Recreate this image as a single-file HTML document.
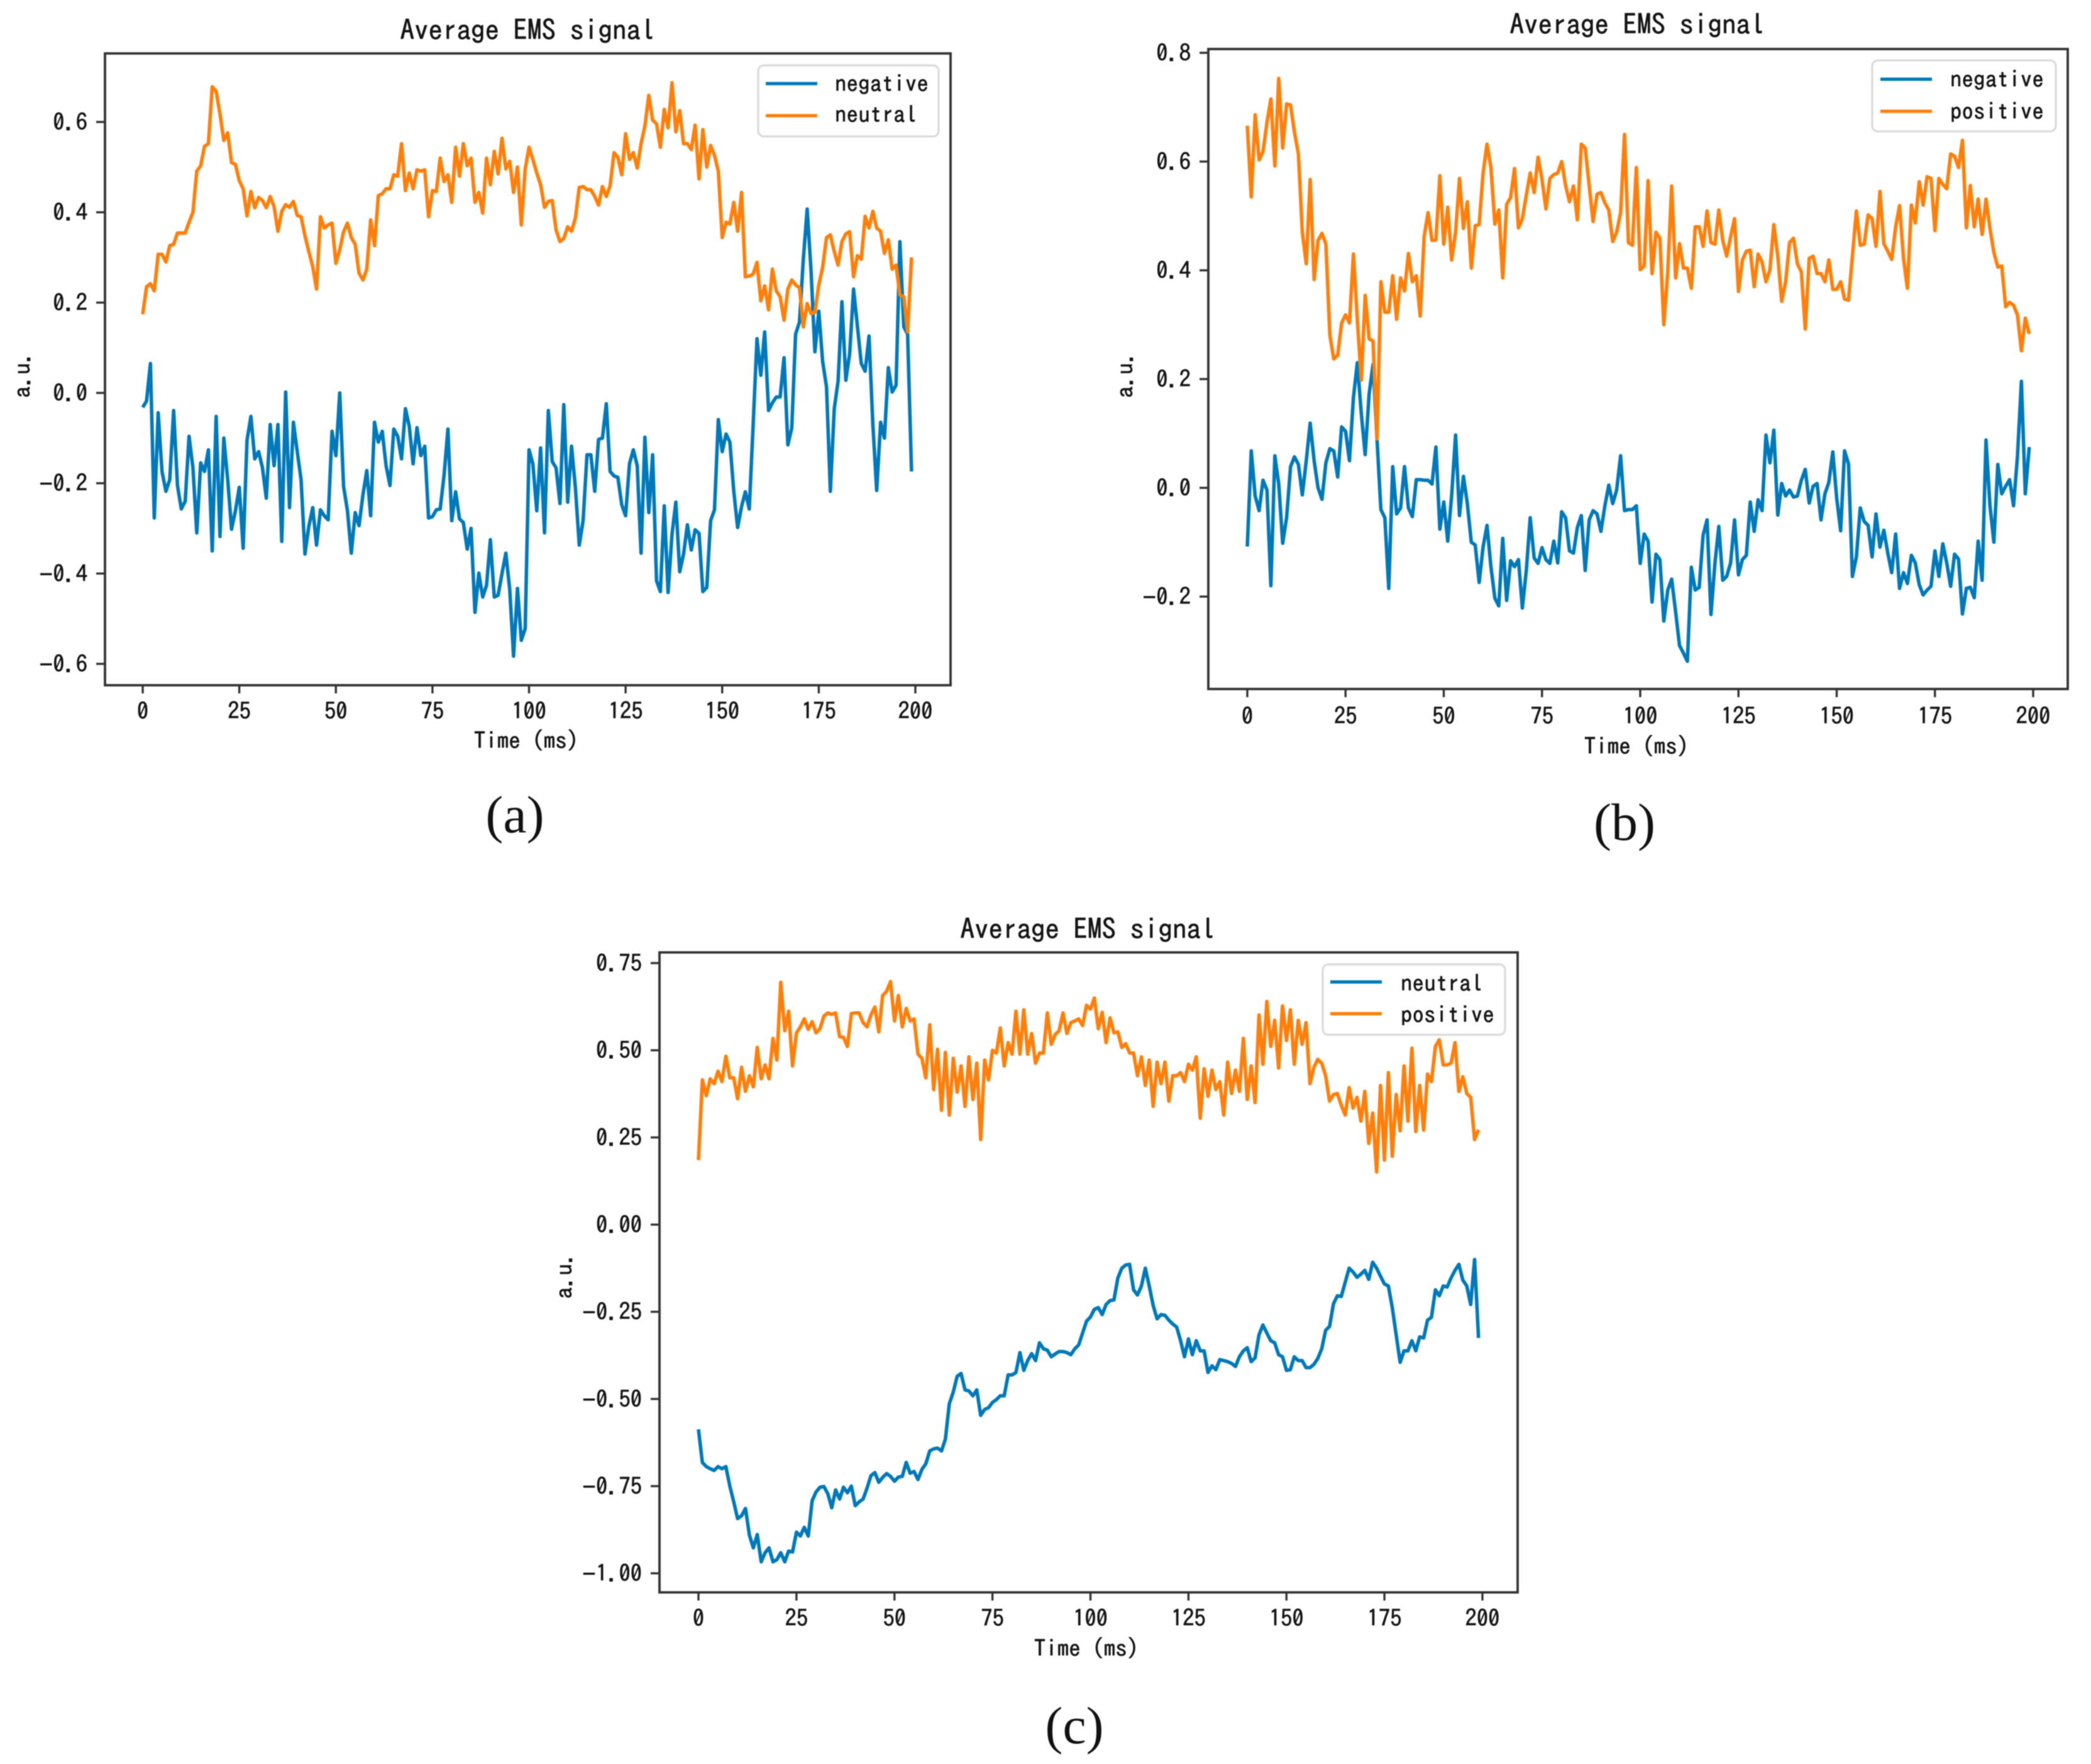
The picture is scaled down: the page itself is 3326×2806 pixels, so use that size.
<!DOCTYPE html>
<html>
<head>
<meta charset="utf-8">
<title>Average EMS signal</title>
<style>
html,body{margin:0;padding:0;background:#fff;}
svg{display:block;filter:blur(0.8px);}
.mono{font-family:"IPAGothic","WenQuanYi Zen Hei",monospace;fill:#141414;stroke:#141414;stroke-width:0.7;}
.title{font-size:45px;text-anchor:middle;}
.axis{font-size:37px;text-anchor:middle;}
.tick{font-size:36.5px;}
.leg{font-size:36.5px;}
.cap{font-family:"Liberation Serif",serif;font-size:84px;text-anchor:middle;fill:#111;}
.frame{fill:none;stroke:#333;stroke-width:3.8;}
.legbox{fill:#fff;stroke:#dcdcdc;stroke-width:3.4;}
.series{fill:none;stroke-width:5.6;stroke-linejoin:round;}
</style>
</head>
<body>
<svg id="fig" xmlns="http://www.w3.org/2000/svg" width="3326" height="2806" viewBox="0 0 3326 2806">
<rect width="3326" height="2806" fill="#fff"/>

<g id="panel-a">
<rect class="frame" x="167" y="85" width="1345" height="1005"/>
<text class="mono title" x="839" y="64">Average EMS signal</text>
<text class="mono axis" x="837" y="1191">Time (ms)</text>
<text class="mono axis" transform="translate(48,596) rotate(-90)">a.u.</text>
<text class="cap" x="819" y="1324">(a)</text>
</g>

<g id="panel-b">
<rect class="frame" x="1922" y="78" width="1367" height="1018"/>
<text class="mono title" x="2604" y="55">Average EMS signal</text>
<text class="mono axis" x="2603" y="1200">Time (ms)</text>
<text class="mono axis" transform="translate(1802,596) rotate(-90)">a.u.</text>
<text class="cap" x="2584" y="1336">(b)</text>
</g>

<g id="panel-c">
<rect class="frame" x="1049" y="1515" width="1365" height="1018"/>
<text class="mono title" x="1730" y="1494">Average EMS signal</text>
<text class="mono axis" x="1728" y="2635">Time (ms)</text>
<text class="mono axis" transform="translate(910,2029) rotate(-90)">a.u.</text>
<text class="cap" x="1709" y="2773">(c)</text>
</g>
</svg>

<script>
const xTicks = [0,25,50,75,100,125,150,175,200];
const yTicksA = [0.6,0.4,0.2,0.0,-0.2,-0.4,-0.6];
const yTicksB = [0.8,0.6,0.4,0.2,0.0,-0.2];
const yTicksC = [0.75,0.50,0.25,0.00,-0.25,-0.50,-0.75,-1.00];

const aNeutral = [.174,.235,.242,.226,.307,.307,.29,.326,.329,.354,.354,.354,.378,.40,.491,.503,.546,.552,.678,.668,.618,.559,.576,.51,.506,.47,.452,.392,.446,.41,.433,.426,.41,.435,.413,.358,.402,.417,.411,.424,.393,.39,.348,.313,.28,.23,.39,.365,.372,.376,.287,.317,.357,.376,.344,.329,.265,.25,.274,.383,.326,.437,.441,.452,.452,.483,.48,.552,.448,.487,.452,.494,.491,.494,.39,.448,.446,.52,.468,.483,.422,.544,.48,.552,.503,.52,.422,.444,.398,.52,.461,.535,.485,.564,.496,.513,.444,.5,.372,.496,.544,.517,.487,.461,.411,.424,.426,.361,.335,.342,.368,.358,.387,.455,.457,.45,.45,.435,.416,.457,.435,.459,.532,.522,.483,.574,.517,.532,.498,.552,.591,.659,.604,.596,.544,.628,.587,.687,.578,.625,.552,.552,.539,.593,.474,.583,.5,.548,.526,.491,.344,.378,.374,.422,.358,.444,.257,.259,.263,.289,.204,.237,.184,.274,.226,.213,.161,.23,.25,.239,.233,.146,.198,.176,.178,.239,.278,.344,.35,.313,.283,.335,.352,.357,.257,.304,.296,.391,.365,.402,.365,.358,.309,.339,.274,.283,.217,.213,.135,.30];
const aNegative = [-.032,-.018,.065,-.277,-.044,-.174,-.218,-.192,-.039,-.205,-.257,-.24,-.096,-.166,-.31,-.155,-.174,-.126,-.35,-.052,-.318,-.10,-.192,-.302,-.261,-.209,-.344,-.105,-.052,-.146,-.13,-.166,-.233,-.07,-.161,-.07,-.329,.002,-.254,-.065,-.13,-.192,-.357,-.296,-.254,-.337,-.259,-.272,-.281,-.085,-.139,0,-.207,-.261,-.355,-.265,-.294,-.226,-.172,-.272,-.065,-.109,-.085,-.161,-.205,-.08,-.096,-.146,-.035,-.074,-.157,-.077,-.139,-.118,-.277,-.274,-.259,-.257,-.183,-.08,-.283,-.219,-.279,-.287,-.346,-.30,-.486,-.399,-.452,-.426,-.325,-.452,-.448,-.40,-.355,-.435,-.583,-.433,-.548,-.522,-.126,-.157,-.261,-.122,-.31,-.039,-.152,-.166,-.245,-.026,-.242,-.118,-.209,-.337,-.283,-.137,-.137,-.218,-.103,-.10,-.024,-.174,-.184,-.187,-.248,-.272,-.157,-.126,-.161,-.355,-.098,-.265,-.137,-.416,-.44,-.25,-.442,-.313,-.242,-.396,-.357,-.292,-.348,-.303,-.311,-.44,-.431,-.283,-.259,-.059,-.13,-.091,-.109,-.218,-.298,-.252,-.219,-.257,-.074,.12,.039,.135,-.039,-.022,-.009,-.009,.078,-.115,-.078,.13,.157,.296,.407,.27,.091,.181,.07,.013,-.218,-.035,.026,.202,.028,.087,.23,.148,.065,.048,.126,-.07,-.216,-.065,-.10,.056,.002,.017,.335,.146,.13,-.174];

const bPositive = [.666,.535,.686,.603,.618,.672,.715,.592,.753,.625,.706,.704,.654,.614,.47,.412,.567,.383,.455,.468,.448,.281,.237,.244,.303,.318,.303,.43,.31,.198,.354,.274,.27,.09,.379,.323,.323,.39,.31,.386,.362,.431,.379,.39,.316,.462,.506,.455,.456,.574,.448,.516,.419,.47,.569,.477,.526,.404,.482,.484,.578,.632,.589,.485,.511,.386,.521,.534,.587,.478,.495,.538,.579,.543,.608,.567,.513,.569,.576,.579,.6,.556,.526,.555,.493,.632,.625,.556,.49,.54,.543,.524,.511,.453,.47,.506,.65,.451,.446,.589,.401,.408,.565,.394,.47,.459,.30,.397,.555,.386,.449,.404,.404,.367,.48,.48,.444,.509,.451,.448,.511,.455,.426,.462,.495,.361,.419,.435,.437,.37,.43,.415,.379,.401,.484,.426,.343,.379,.451,.459,.412,.397,.292,.422,.426,.394,.394,.379,.419,.365,.365,.379,.347,.345,.426,.509,.446,.448,.502,.495,.444,.545,.449,.435,.42,.48,.519,.422,.367,.52,.487,.563,.52,.572,.569,.473,.569,.558,.55,.614,.61,.589,.639,.478,.556,.48,.531,.466,.531,.477,.433,.406,.408,.333,.341,.336,.318,.252,.312,.283];
const bNegative = [-.108,.068,-.015,-.042,.014,-.004,-.18,.059,.007,-.102,-.055,.039,.057,.043,-.013,.05,.119,.05,0,-.021,.046,.072,.068,.02,.112,.104,.05,.166,.23,.137,.061,.173,.227,.09,-.04,-.055,-.185,.039,-.048,-.037,.039,-.037,-.053,.015,.015,.014,.014,.007,.075,-.076,-.026,-.098,-.015,.097,-.051,.021,-.029,-.10,-.105,-.174,-.109,-.069,-.145,-.203,-.217,-.093,-.207,-.134,-.145,-.132,-.221,-.152,-.055,-.129,-.139,-.11,-.132,-.139,-.098,-.138,-.044,-.055,-.116,-.12,-.073,-.051,-.152,-.059,-.042,-.048,-.08,-.033,.005,-.029,-.004,.059,-.042,-.04,-.04,-.033,-.139,-.085,-.098,-.21,-.122,-.132,-.245,-.188,-.168,-.228,-.29,-.304,-.319,-.146,-.188,-.183,-.087,-.059,-.233,-.139,-.071,-.17,-.163,-.138,-.059,-.16,-.132,-.124,-.026,-.08,-.022,-.042,.097,.046,.106,-.05,.008,-.015,-.004,-.017,-.015,.014,.034,-.028,.003,.008,-.059,-.011,.01,.066,-.019,-.079,.068,.044,-.163,-.127,-.037,-.062,-.069,-.127,-.048,-.109,-.078,-.12,-.156,-.085,-.185,-.156,-.176,-.124,-.138,-.178,-.197,-.188,-.181,-.116,-.163,-.103,-.138,-.181,-.122,-.131,-.232,-.185,-.183,-.202,-.098,-.17,.088,-.033,-.10,.043,-.011,.003,.015,-.033,.057,.196,-.011,.075];

const cPositive = [.185,.415,.37,.418,.404,.44,.41,.483,.421,.421,.361,.451,.382,.427,.395,.508,.418,.458,.418,.534,.472,.695,.556,.612,.455,.55,.567,.59,.56,.582,.55,.562,.598,.607,.603,.607,.539,.537,.511,.605,.607,.607,.579,.567,.601,.624,.553,.657,.669,.697,.584,.657,.567,.62,.584,.59,.489,.477,.421,.573,.387,.503,.328,.494,.314,.477,.38,.455,.339,.481,.359,.463,.244,.472,.415,.50,.492,.564,.455,.522,.489,.612,.489,.616,.489,.548,.463,.492,.492,.607,.517,.545,.556,.607,.548,.579,.584,.59,.571,.629,.618,.65,.562,.609,.522,.593,.55,.553,.508,.519,.492,.492,.427,.481,.399,.472,.339,.466,.404,.466,.354,.427,.427,.436,.41,.46,.443,.481,.305,.447,.368,.443,.387,.41,.314,.466,.376,.443,.382,.534,.359,.455,.35,.601,.46,.64,.511,.586,.449,.627,.528,.616,.46,.586,.517,.579,.404,.451,.474,.463,.427,.354,.373,.376,.342,.314,.393,.334,.365,.297,.382,.233,.32,.151,.399,.185,.436,.196,.373,.269,.455,.297,.506,.267,.399,.271,.432,.41,.511,.53,.458,.458,.463,.522,.382,.424,.376,.365,.244,.272];
const cNeutral = [-.587,-.682,-.694,-.70,-.705,-.694,-.70,-.694,-.75,-.795,-.843,-.835,-.814,-.891,-.927,-.889,-.967,-.941,-.927,-.967,-.961,-.941,-.967,-.936,-.939,-.882,-.893,-.868,-.893,-.792,-.767,-.753,-.751,-.772,-.812,-.761,-.787,-.753,-.769,-.75,-.806,-.795,-.787,-.756,-.72,-.711,-.739,-.725,-.714,-.722,-.736,-.724,-.722,-.682,-.713,-.708,-.731,-.702,-.686,-.649,-.643,-.641,-.649,-.615,-.514,-.48,-.435,-.427,-.474,-.477,-.491,-.474,-.547,-.53,-.525,-.51,-.502,-.491,-.491,-.431,-.431,-.424,-.367,-.418,-.39,-.37,-.39,-.339,-.356,-.36,-.379,-.371,-.364,-.364,-.367,-.373,-.356,-.345,-.311,-.277,-.265,-.243,-.238,-.258,-.229,-.218,-.216,-.153,-.125,-.116,-.114,-.187,-.202,-.176,-.125,-.176,-.232,-.27,-.258,-.26,-.274,-.285,-.294,-.333,-.379,-.328,-.373,-.333,-.362,-.362,-.424,-.405,-.416,-.387,-.39,-.393,-.398,-.407,-.379,-.362,-.353,-.393,-.382,-.316,-.288,-.311,-.333,-.339,-.373,-.379,-.418,-.416,-.379,-.39,-.39,-.41,-.41,-.401,-.384,-.356,-.303,-.292,-.227,-.204,-.206,-.165,-.125,-.136,-.151,-.142,-.131,-.157,-.108,-.125,-.148,-.17,-.176,-.238,-.316,-.395,-.362,-.362,-.333,-.362,-.322,-.325,-.274,-.266,-.187,-.204,-.176,-.179,-.153,-.131,-.114,-.159,-.176,-.229,-.10,-.325];

const BLUE = '#0079ba';
const ORANGE = '#ff7f0a';
const NS = 'http://www.w3.org/2000/svg';

function makeScale(d0, d1, r0, r1) {
  return function (v) { return r0 + (v - d0) * (r1 - r0) / (d1 - d0); };
}
function add(parent, tag, attrs) {
  const el = document.createElementNS(NS, tag);
  for (const k in attrs) el.setAttribute(k, attrs[k]);
  parent.appendChild(el);
  return el;
}
function fmt(v, digits) {
  return Math.abs(v).toFixed(digits);
}
function drawSeries(g, values, xs, ys, color, name) {
  const pts = values.map(function (v, i) { return xs(i).toFixed(1) + ',' + ys(v).toFixed(1); }).join(' ');
  const line = add(g, 'polyline', {'class': 'series', points: pts, stroke: color});
  
  
}
function drawXTicks(g, xs, frameBottom, labelY) {
  xTicks.forEach(function (t) {
    const mark = add(g, 'line', {x1: xs(t), x2: xs(t), y1: frameBottom, y2: frameBottom + 13, stroke: '#333', 'stroke-width': 3.4});
    
    
    const lab = add(g, 'text', {'class': 'mono tick', x: xs(t), y: labelY, 'text-anchor': 'middle'});
    lab.textContent = String(t);
    
    
  });
}
function drawYTicks(g, ys, ticks, digits, frameLeft) {
  ticks.forEach(function (t) {
    const mark = add(g, 'line', {x1: frameLeft - 14, x2: frameLeft, y1: ys(t), y2: ys(t), stroke: '#333', 'stroke-width': 3.4});
    
    
    const lab = add(g, 'text', {'class': 'mono tick', x: frameLeft - 28, y: ys(t) + 13, 'text-anchor': 'end'});
    if (t < 0) {
      const m = add(lab, 'tspan', {'font-family': 'Liberation Mono'});
      m.textContent = '\u2212';
      lab.appendChild(document.createTextNode(fmt(t, digits)));
    } else {
      lab.textContent = fmt(t, digits);
    }
    
    
  });
}
function drawLegend(g, x, y, w, h, lineX, textX, rows) {
  const box = add(g, 'rect', {'class': 'legbox', x: x, y: y, width: w, height: h, rx: 9});
  
  
  rows.forEach(function (r) {
    const l = add(g, 'line', {x1: lineX, x2: lineX + 82, y1: r.ly, y2: r.ly, stroke: r.color, 'stroke-width': 5.2});
    
    
    const t = add(g, 'text', {'class': 'mono leg', x: textX, y: r.ty, textLength: r.label.length * 18.6, lengthAdjust: 'spacing'});
    t.textContent = r.label;
    
    
  });
}

/* panel a */
(function () {
  const g = document.getElementById('panel-a');
  const xs = makeScale(0, 200, 227, 1456);
  const ys = makeScale(0, 0.6, 625, 194);
  drawSeries(g, aNegative, xs, ys, BLUE, 'negative-line-a');
  drawSeries(g, aNeutral, xs, ys, ORANGE, 'neutral-line-a');
  drawXTicks(g, xs, 1090, 1144);
  drawYTicks(g, ys, yTicksA, 1, 167);
  drawLegend(g, 1206, 104, 287, 113, 1218, 1328, [
    {label: 'negative', color: BLUE, ly: 133, ty: 146},
    {label: 'neutral', color: ORANGE, ly: 184, ty: 195}
  ]);
})();

/* panel b */
(function () {
  const g = document.getElementById('panel-b');
  const xs = makeScale(0, 200, 1984, 3234);
  const ys = makeScale(0, 0.8, 776, 84);
  drawSeries(g, bNegative, xs, ys, BLUE, 'negative-line-b');
  drawSeries(g, bPositive, xs, ys, ORANGE, 'positive-line-b');
  drawXTicks(g, xs, 1096, 1152);
  drawYTicks(g, ys, yTicksB, 1, 1922);
  drawLegend(g, 2978, 96, 292, 113, 2991, 3102, [
    {label: 'negative', color: BLUE, ly: 126, ty: 139},
    {label: 'positive', color: ORANGE, ly: 177, ty: 190}
  ]);
})();

/* panel c */
(function () {
  const g = document.getElementById('panel-c');
  const xs = makeScale(0, 200, 1111, 2358);
  const ys = makeScale(0, 0.75, 1948, 1532);
  drawSeries(g, cNeutral, xs, ys, BLUE, 'neutral-line-c');
  drawSeries(g, cPositive, xs, ys, ORANGE, 'positive-line-c');
  drawXTicks(g, xs, 2533, 2587);
  drawYTicks(g, ys, yTicksC, 2, 1049);
  drawLegend(g, 2104, 1534, 290, 112, 2116, 2228, [
    {label: 'neutral', color: BLUE, ly: 1562, ty: 1577},
    {label: 'positive', color: ORANGE, ly: 1612.5, ty: 1627}
  ]);
})();
</script>
</body>
</html>
